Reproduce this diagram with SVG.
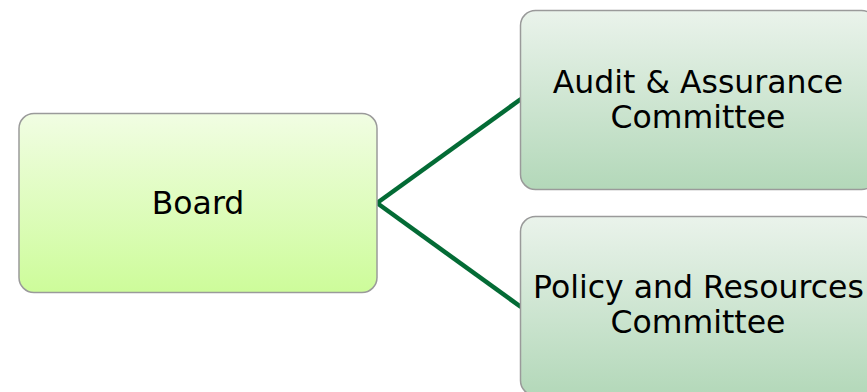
<svg xmlns="http://www.w3.org/2000/svg" width="867" height="392" viewBox="0 0 867 392">
<defs>
<linearGradient id="gBoard" x1="0" y1="0" x2="0" y2="1">
<stop offset="0" stop-color="#f1fde3"/>
<stop offset="1" stop-color="#cdfc9a"/>
</linearGradient>
<linearGradient id="gCom" x1="0" y1="0" x2="0" y2="1">
<stop offset="0" stop-color="#eaf3eb"/>
<stop offset="1" stop-color="#b3d8b9"/>
</linearGradient>
<style>
.box{stroke:#9a9a9a;stroke-width:1.5}
.lbl{font-family:"DejaVu Sans",Verdana,sans-serif;font-size:31.5px;fill:#000;text-anchor:middle}
.conn{stroke:#036b35;stroke-width:4.5;fill:none}
</style>
</defs>
<g id="connectors">
<line class="conn" x1="377" y1="203" x2="521" y2="99"/>
<line class="conn" x1="377" y1="203" x2="521" y2="307"/>
</g>
<g id="board">
<rect class="box" x="19" y="113.5" width="358" height="179" rx="15" fill="url(#gBoard)"/>
<text class="lbl" x="198" y="214">Board</text>
</g>
<g id="audit">
<rect class="box" x="520.5" y="10.5" width="356" height="179" rx="15" fill="url(#gCom)"/>
<text class="lbl" x="698" y="93">Audit &amp; Assurance</text>
<text class="lbl" x="698" y="128">Committee</text>
</g>
<g id="policy">
<rect class="box" x="520.5" y="216.5" width="356" height="179" rx="15" fill="url(#gCom)"/>
<text class="lbl" x="698.5" y="298">Policy and Resources</text>
<text class="lbl" x="698" y="333">Committee</text>
</g>
</svg>
